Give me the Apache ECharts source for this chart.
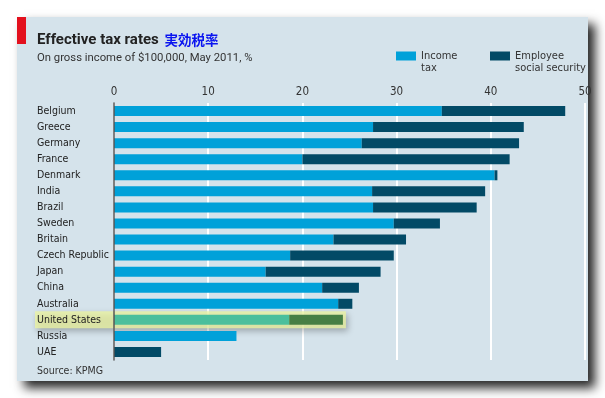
<!DOCTYPE html>
<html>
<head>
<meta charset="utf-8">
<script src="https://cdn.jsdelivr.net/npm/echarts@6/dist/echarts.min.js"></script>
<style>
  html, body { margin: 0; padding: 0; background: #fff; }
  #main { width: 605px; height: 398px; }
</style>
</head>
<body>
<div id="main"></div>
<script>
const countries = ['Belgium', 'Greece', 'Germany', 'France', 'Denmark', 'India', 'Brazil', 'Sweden',
  'Britain', 'Czech Republic', 'Japan', 'China', 'Australia', 'United States', 'Russia', 'UAE'];
const incomeTax = [34.8, 27.5, 26.3, 20.0, 40.4, 27.4, 27.5, 29.7, 23.3, 18.7, 16.1, 22.1, 23.8, 18.6, 13.0, 0];
const socialSecurity = [13.1, 16.0, 16.7, 22.0, 0.3, 12.0, 11.0, 4.9, 7.7, 11.0, 12.2, 3.9, 1.5, 5.7, 0, 5.0];
const xTicks = [0, 10, 20, 30, 40, 50];
const highlighted = 'United States';

const font = '"DejaVu Sans Condensed", Roboto, sans-serif';
const titleFont = 'Roboto, sans-serif';
const chart = echarts.init(document.getElementById('main'));

function withHighlight(values, hiColor) {
  return values.map((v, i) => countries[i] === highlighted
    ? { value: v, itemStyle: { color: hiColor } }
    : v);
}

// a blank first line keeps the swatch level with the first real text line
const legendText = { fontFamily: font, fontSize: 11, color: '#333', lineHeight: 12 };

const option = {
  backgroundColor: '#ffffff',
  animation: false,
  textStyle: { fontFamily: font },
  title: {
    left: 37, top: 31, padding: 0,
    text: '{a|Effective tax rates} {b|実効税率}',
    textStyle: {
      rich: {
        a: { fontFamily: titleFont, fontSize: 15, fontWeight: 'bold', color: '#222' },
        b: { fontFamily: '"Noto Sans CJK JP", sans-serif', fontSize: 13.5, color: '#0a14f0' }
      }
    },
    subtext: 'On gross income of $100,000, May 2011, %',
    subtextStyle: { fontFamily: titleFont, fontSize: 11.3, color: '#333' },
    itemGap: 4
  },
  legend: [
    {
      left: 396, top: 38, padding: 0, itemGap: 3,
      itemWidth: 20, itemHeight: 9, icon: 'rect', selectedMode: false,
      data: ['Income tax'],
      formatter: () => ' \nIncome\ntax',
      textStyle: legendText
    },
    {
      left: 490, top: 38, padding: 0,
      itemWidth: 20, itemHeight: 9, icon: 'rect', selectedMode: false,
      data: ['Employee social security'],
      formatter: () => ' \nEmployee\nsocial security',
      textStyle: legendText
    }
  ],
  grid: { left: 114, right: 20, top: 103, bottom: 38 },
  xAxis: {
    type: 'value', position: 'top',
    min: xTicks[0], max: xTicks[xTicks.length - 1], interval: 10,
    axisLine: { show: false }, axisTick: { show: false },
    axisLabel: { color: '#333', fontSize: 11.5, margin: 5 },
    splitLine: { lineStyle: { color: '#ffffff', width: 2 } }
  },
  yAxis: {
    type: 'category', inverse: true, data: countries, z: 3,
    axisLine: { lineStyle: { color: '#555', width: 1.5 } },
    axisTick: { show: false },
    axisLabel: { align: 'left', margin: 77, fontSize: 10.5, color: '#222', interval: 0 }
  },
  series: [
    {
      name: 'Income tax', type: 'bar', stack: 'tax', barWidth: 10,
      itemStyle: { color: '#00a1d9' },
      data: withHighlight(incomeTax, '#4bbf9c')
    },
    {
      name: 'Employee social security', type: 'bar', stack: 'tax', barWidth: 10,
      itemStyle: { color: '#024a66' },
      data: withHighlight(socialSecurity, '#477f44')
    }
  ]
};
chart.setOption(option);

// decorative panel, red tab, highlight band and source
const hiIdx = countries.indexOf(highlighted);
const hiY = chart.convertToPixel({ yAxisIndex: 0 }, highlighted);
const hiEnd = chart.convertToPixel({ xAxisIndex: 0 }, incomeTax[hiIdx] + socialSecurity[hiIdx]);
chart.setOption({
  graphic: [
    {
      type: 'rect', z: -10, silent: true,
      shape: { x: 17, y: 17, width: 571, height: 364 },
      style: { fill: '#d5e3eb', shadowBlur: 10, shadowOffsetX: 7, shadowOffsetY: 7, shadowColor: 'rgba(0,0,0,0.85)' }
    },
    {
      type: 'rect', z: -9, silent: true,
      shape: { x: 17, y: 17, width: 9, height: 27 },
      style: { fill: '#e3101d' }
    },
    {
      type: 'rect', z: 1, silent: true,
      shape: { x: 35, y: hiY - 8.5, width: hiEnd + 3 - 35, height: 17 },
      style: { fill: 'rgba(238,245,160,0.75)', shadowBlur: 6, shadowOffsetX: 2, shadowOffsetY: 3, shadowColor: 'rgba(0,0,0,0.35)' }
    },
    {
      type: 'text', left: 37, top: 366, silent: true,
      style: { text: 'Source: KPMG', font: '10.5px ' + font, fill: '#333' }
    }
  ]
});
</script>
</body>
</html>
